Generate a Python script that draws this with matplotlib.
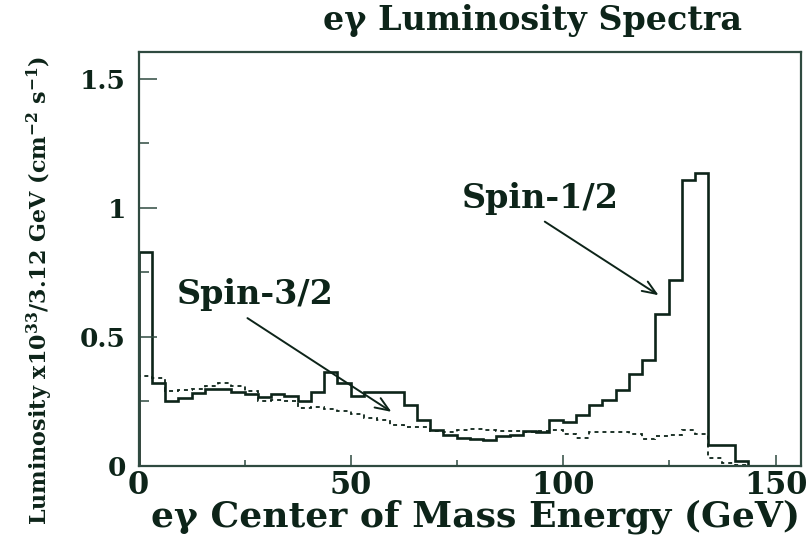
import numpy as np
import matplotlib
matplotlib.use("Agg")
import matplotlib.pyplot as plt
from matplotlib.ticker import MultipleLocator, FuncFormatter

# eγ luminosity per 3.12 GeV bin, x10^33 cm^-2 s^-1
bin_width = 3.12
n_bins = 50
spin_half = [0.83, 0.32, 0.25, 0.262, 0.282, 0.297, 0.297, 0.288, 0.279, 0.267,
             0.28, 0.272, 0.25, 0.285, 0.366, 0.32, 0.27, 0.285, 0.285, 0.285,
             0.237, 0.178, 0.14, 0.12, 0.107, 0.105, 0.10, 0.115, 0.12, 0.135,
             0.13, 0.178, 0.17, 0.197, 0.236, 0.255, 0.295, 0.355, 0.41, 0.59,
             0.72, 1.11, 1.137, 0.08, 0.08, 0.02, 0.0, 0.0, 0.0, 0.0]
spin_three_half = [0.35, 0.34, 0.29, 0.295, 0.30, 0.31, 0.32, 0.31, 0.29, 0.25,
                   0.255, 0.25, 0.225, 0.23, 0.22, 0.215, 0.20, 0.185, 0.18, 0.158,
                   0.15, 0.152, 0.137, 0.133, 0.14, 0.142, 0.14, 0.135, 0.135, 0.13,
                   0.135, 0.14, 0.125, 0.11, 0.13, 0.13, 0.13, 0.125, 0.105, 0.115,
                   0.12, 0.14, 0.125, 0.03, 0.012, 0.005, 0.0, 0.0, 0.0, 0.0]
x_ticks = [0, 50, 100, 150]
y_ticks = [0, 0.5, 1, 1.5]

ink = "#0d2419"
frame = "#2f4a40"

plt.rcParams["font.family"] = ["DejaVu Serif"]
plt.rcParams["font.weight"] = "bold"
plt.rcParams["mathtext.fontset"] = "dejavuserif"
plt.rcParams["mathtext.default"] = "bf"

fig = plt.figure(figsize=(8.11, 5.35), dpi=100)
ax = fig.add_axes([0.1708, 0.129, 0.817, 0.774])

edges = np.arange(n_bins + 1) * bin_width
ax.stairs(spin_half, edges, baseline=0, color=ink, lw=1.9)
ax.stairs(spin_three_half, edges, baseline=0, color=ink, lw=1.3,
          linestyle=(0, (2.2, 2.2)))

ax.set_xlim(0, 156)
ax.set_ylim(0, 1.605)
ax.set_xticks(x_ticks)
ax.set_yticks(y_ticks)
ax.xaxis.set_minor_locator(MultipleLocator(25))
ax.yaxis.set_minor_locator(MultipleLocator(0.25))
ax.yaxis.set_major_formatter(FuncFormatter(lambda v, p: f"{v:g}"))
ax.tick_params(which="both", direction="in", top=False, right=False,
               colors=frame, labelcolor=ink, width=1.1)
ax.tick_params(axis="x", which="major", length=8, pad=3, labelsize=22)
ax.tick_params(axis="x", which="minor", length=4.5)
ax.tick_params(axis="y", which="major", length=13, pad=9, labelsize=19)
ax.tick_params(axis="y", which="minor", length=7)
for lab in ax.get_xticklabels() + ax.get_yticklabels():
    lab.set_fontweight("bold")
for sp in ax.spines.values():
    sp.set_color(frame)
    sp.set_linewidth(1.6)

# labels with arrows pointing at each curve
head = "->,head_length=1.0,head_width=0.4"
ax.annotate("", xy=(123.0, 0.656), xytext=(95.1, 0.953),
            arrowprops=dict(arrowstyle=head, color=ink, lw=1.4))
ax.text(94.5, 1.0, "Spin-1/2", ha="center", va="baseline",
        fontsize=24, fontweight="bold", color=ink)
ax.annotate("", xy=(60.1, 0.204), xytext=(25.1, 0.579),
            arrowprops=dict(arrowstyle=head, color=ink, lw=1.4))
ax.text(27.5, 0.627, "Spin-3/2", ha="center", va="baseline",
        fontsize=24, fontweight="bold", color=ink)

fig.text(0.656, 0.961, "eγ Luminosity Spectra", ha="center", va="center",
         fontsize=24, fontweight="bold", color=ink)
fig.text(0.986, 0.034, "eγ Center of Mass Energy (GeV)", ha="right",
         va="center", fontsize=26, fontweight="bold", color=ink)
fig.text(0.049, 0.458,
         r"Luminosity x10$^{33}$/3.12 GeV (cm$^{-2}$ s$^{-1}$)",
         ha="center", va="center", rotation=90, fontsize=16,
         fontweight="bold", color=ink)

fig.savefig("out.png", dpi=100)
